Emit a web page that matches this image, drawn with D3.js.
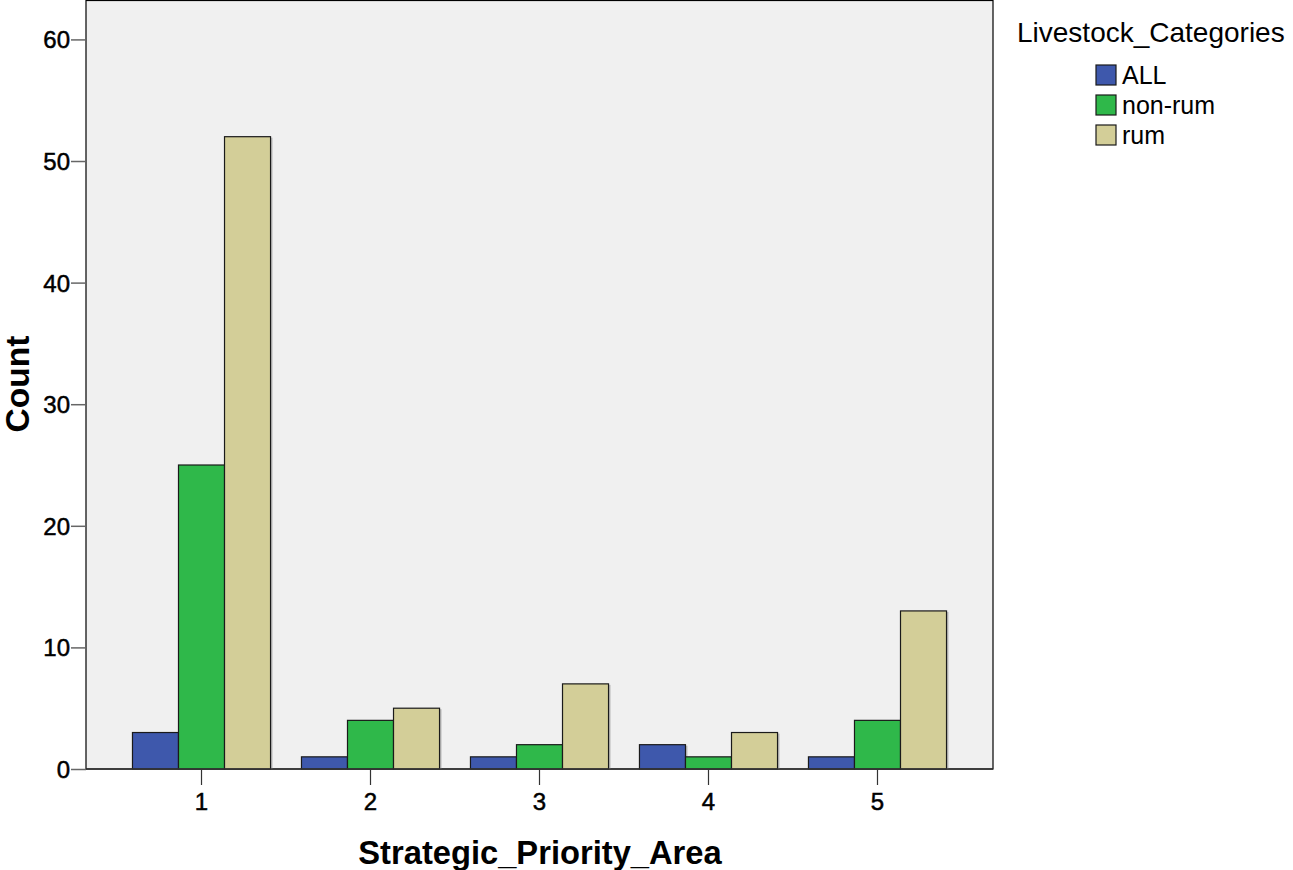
<!DOCTYPE html>
<html><head><meta charset="utf-8">
<script src="https://cdn.jsdelivr.net/npm/d3@7"></script>
<style>body{margin:0;background:#fff}svg{display:block}</style>
</head><body>
<svg id="c" width="1293" height="870"></svg>
<script>
const categories = ["1","2","3","4","5"];
const seriesNames = ["ALL","non-rum","rum"];
const allValues = [3,1,1,2,1];
const nonRumValues = [25,4,2,1,4];
const rumValues = [52,5,7,3,13];
const yTicks = [0,10,20,30,40,50,60];
const colors = ["#3e58ac","#2fb84a","#d3ce98"];

const seriesValues = [allValues, nonRumValues, rumValues];
const svg = d3.select("#c");
const L = 86, R = 993, T = 0.5, B = 769;
const font = "Liberation Sans, Arial, sans-serif";

const x = d3.scaleBand().domain(categories).range([L, R]).paddingInner(0.183).paddingOuter(0.275);
const xs = d3.scaleBand().domain(seriesNames).range([0, x.bandwidth()]);
const y = d3.scaleLinear().domain([0, 63.2]).range([B, T]);

svg.append("rect").attr("x", L).attr("y", T).attr("width", R - L).attr("height", B - T)
  .attr("fill", "#f0f0f0").attr("stroke", "#000").attr("stroke-width", 1.2);

const data = [];
categories.forEach((c, i) => seriesNames.forEach((s, j) => data.push({c, s, v: seriesValues[j][i], j})));

// subtle shadows
svg.append("g").selectAll("rect").data(data).join("rect")
  .attr("x", d => x(d.c) + xs(d.s) + 2).attr("y", d => y(d.v) + 1)
  .attr("width", xs.bandwidth()).attr("height", d => B - y(d.v) - 1)
  .attr("fill", "#bdbdbd");
svg.append("g").selectAll("rect").data(data).join("rect")
  .attr("x", d => x(d.c) + xs(d.s)).attr("y", d => y(d.v))
  .attr("width", xs.bandwidth()).attr("height", d => B - y(d.v))
  .attr("fill", d => colors[d.j]).attr("stroke", "#1a1a1a").attr("stroke-width", 1.2);

svg.append("line").attr("x1", L).attr("x2", R).attr("y1", B).attr("y2", B).attr("stroke", "#333").attr("stroke-width", 1.5);

const yAxis = svg.append("g").attr("transform", `translate(${L},0)`)
  .call(d3.axisLeft(y).tickValues(yTicks).tickSize(15).tickPadding(1));
yAxis.select(".domain").remove();
yAxis.selectAll("line").attr("stroke", "#666").attr("stroke-width", 1.5);
yAxis.selectAll("text").attr("font-family", font).attr("font-size", 24).attr("fill", "#000")
  .attr("stroke", "#000").attr("stroke-width", 0.5).attr("dy", "0.35em");

const xAxis = svg.append("g").attr("transform", `translate(0,${B})`)
  .call(d3.axisBottom(x).tickSize(16).tickPadding(8));
xAxis.select(".domain").remove();
xAxis.selectAll("line").attr("stroke", "#333").attr("stroke-width", 1.2);
xAxis.selectAll("text").attr("font-family", font).attr("font-size", 24).attr("fill", "#000")
  .attr("stroke", "#000").attr("stroke-width", 0.5);

svg.append("text").attr("x", 540).attr("y", 864).attr("text-anchor", "middle")
  .attr("font-family", font).attr("font-weight", "bold").attr("font-size", 32.7).text("Strategic_Priority_Area");
svg.append("text").attr("transform", "translate(29,384) rotate(-90)").attr("text-anchor", "middle")
  .attr("font-family", font).attr("font-weight", "bold").attr("font-size", 33.5).text("Count");

svg.append("text").attr("x", 1017).attr("y", 42).attr("font-family", font).attr("font-size", 28).text("Livestock_Categories");
const lg = svg.append("g").selectAll("g").data(seriesNames).join("g")
  .attr("transform", (d, i) => `translate(1096,${65 + i * 30})`);
lg.append("rect").attr("width", 20).attr("height", 20).attr("fill", (d, i) => colors[i]).attr("stroke", "#1a1a1a").attr("stroke-width", 1.2);
lg.append("text").attr("x", 26).attr("y", 19).attr("font-family", font).attr("font-size", 25).text(d => d);
</script>
</body></html>
